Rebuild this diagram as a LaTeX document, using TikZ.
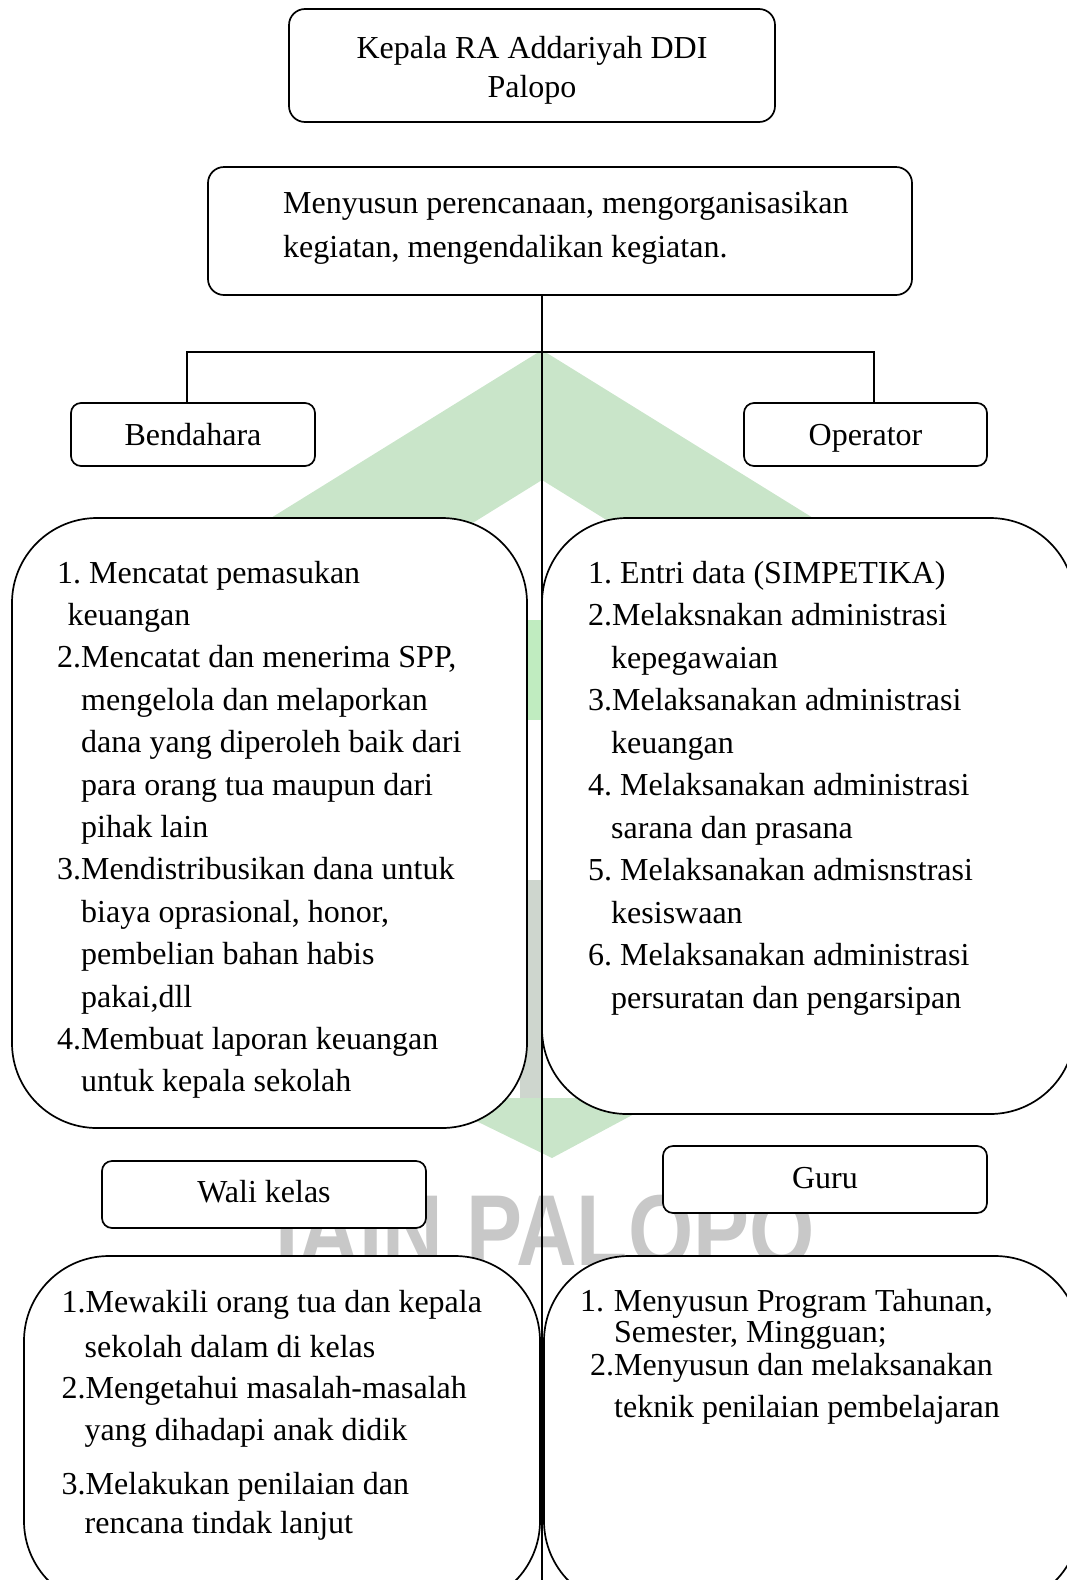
\documentclass[tikz,border=0pt]{standalone}
\usepackage{fontspec}
\setmainfont{Liberation Serif}
\newfontfamily\wmfont{Liberation Sans}
\definecolor{wmgreen}{RGB}{201,229,201}
\definecolor{wmstrip}{RGB}{192,236,192}
\definecolor{wmgrey}{RGB}{206,214,206}
\definecolor{wmtext}{RGB}{200,200,200}
\newcommand\BlockT[1]{\vtop{\baselineskip=0pt\lineskip=0pt\lineskiplimit=-\maxdimen #1}}
\newcommand\FLine[2]{\hbox{\kern#1pt #2}}
\newcommand\TLine[3]{\vskip#1pt\hbox{\kern#2pt #3}}
\newcommand\CFirst[1]{\hbox to 0pt{\hss#1\hss}}
\newcommand\CLine[2]{\vskip#1pt\hbox to 0pt{\hss#2\hss}}
\tikzset{
  sbox/.style={draw, line width=1.7pt, rounded corners=10pt, fill=white, inner sep=0pt,
    font=\fontsize{32}{38}\selectfont, text height=21pt, text depth=0pt},
  tbox/.style={draw, line width=1.7pt, rounded corners=16pt, fill=white, inner sep=0pt},
  bbox/.style={draw, line width=1.7pt, rounded corners=85pt, fill=white, inner sep=0pt},
  txt/.style={inner sep=0pt, font=\fontsize{32}{38}\selectfont},
  conn/.style={draw, line width=1.4pt},
}
\begin{document}
\frenchspacing
\begin{tikzpicture}[x=1pt,y=-1pt]
\useasboundingbox (0,0) rectangle (1067,1580);
\clip (0,0) rectangle (1067,1580);
% watermark
\fill[wmgreen] (542,350) -- (74,640) -- (284,640) -- (542,480) -- (800,640) -- (1010,640) -- cycle;
\fill[wmstrip] (520,620) rectangle (542,720);
\fill[wmgrey] (520,880) rectangle (542,1100);
\fill[wmgreen] (429,1098) -- (664,1098) -- (552,1158) -- cycle;
\node[font=\wmfont\bfseries\fontsize{84}{84}\selectfont, text=wmtext, anchor=base, inner sep=0pt] (wm) at (545,1265) {\scalebox{1}[1.2]{IAIN PALOPO}};
% boxes
\node[tbox, minimum width=486pt, minimum height=113pt] (kepala) at (532,65.5) {};
\node[tbox, minimum width=704pt, minimum height=128pt] (tugas) at (560,231) {};
\node[sbox, minimum width=244pt, minimum height=63pt] (bend) at (193,434.5) {Bendahara};
\node[sbox, minimum width=243pt, minimum height=63pt] (oper) at (865.5,434.5) {Operator};
\node[bbox, minimum width=515pt, minimum height=610pt] (bendtask) at (269.5,823) {};
\node[bbox, minimum width=533pt, minimum height=596pt] (opertask) at (808.5,816) {};
\node[sbox, text height=15pt, minimum width=324pt, minimum height=67pt] (wali) at (264,1194.5) {Wali kelas};
\node[sbox, text height=17pt, minimum width=324pt, minimum height=67pt] (guru) at (825,1179.5) {Guru};
\node[bbox, minimum width=516pt, minimum height=350pt] (walitask) at (282,1431) {};
\node[bbox, minimum width=536pt, minimum height=350pt] (gurutask) at (812,1431) {};
% connectors
\coordinate (hub) at (542,352);
\coordinate (lj) at (187,352);
\coordinate (rj) at (874,352);
\coordinate (foot) at (542,1580);
\draw[conn] (hub |- tugas.south) -- (foot);
\draw[conn] (lj |- bend.north) -- (lj) -- (rj) -- (rj |- oper.north);
% texts
\node[txt, anchor=base] (kepalatxt) at (532,58) {\BlockT{\CFirst{Kepala RA Addariyah DDI}\CLine{39.3}{Palopo}}};
\node[txt, anchor=base west] (tugastxt) at (283,213) {\BlockT{\FLine{0}{Menyusun perencanaan, mengorganisasikan}\TLine{44}{0}{kegiatan, mengendalikan kegiatan.}}};
\node[txt, anchor=base west] (bendtxt) at (57,583) {\BlockT{%
\FLine{0}{1. Mencatat pemasukan}
\TLine{42.4}{10.5}{keuangan}
\TLine{42.4}{0}{2.Mencatat dan menerima SPP,}
\TLine{42.4}{24}{mengelola dan melaporkan}
\TLine{42.4}{24}{dana yang diperoleh baik dari}
\TLine{42.4}{24}{para orang tua maupun dari}
\TLine{42.4}{24}{pihak lain}
\TLine{42.4}{0}{3.Mendistribusikan dana untuk}
\TLine{42.4}{24}{biaya oprasional, honor,}
\TLine{42.4}{24}{pembelian bahan habis}
\TLine{42.4}{24}{pakai,dll}
\TLine{42.4}{0}{4.Membuat laporan keuangan}
\TLine{42.4}{24}{untuk kepala sekolah}}};
\node[txt, anchor=base west] (opertxt) at (588,583) {\BlockT{%
\FLine{0}{1. Entri data (SIMPETIKA)}
\TLine{42.5}{0}{2.Melaksnakan administrasi}
\TLine{42.5}{23}{kepegawaian}
\TLine{42.5}{0}{3.Melaksanakan administrasi}
\TLine{42.5}{23}{keuangan}
\TLine{42.5}{0}{4. Melaksanakan administrasi}
\TLine{42.5}{23}{sarana dan prasana}
\TLine{42.5}{0}{5. Melaksanakan admisnstrasi}
\TLine{42.5}{23}{kesiswaan}
\TLine{42.5}{0}{6. Melaksanakan administrasi}
\TLine{42.5}{23}{persuratan dan pengarsipan}}};
\node[txt, anchor=base west] (walitxt) at (61.5,1312) {\BlockT{%
\FLine{0}{1.Mewakili orang tua dan kepala}
\TLine{45}{23}{sekolah dalam di kelas}
\TLine{41}{0}{2.Mengetahui masalah-masalah}
\TLine{42}{23}{yang dihadapi anak didik}
\TLine{54}{0}{3.Melakukan penilaian dan}
\TLine{39}{23}{rencana tindak lanjut}}};
\node[txt, anchor=base west] (gurutxt) at (580,1311) {\BlockT{%
\FLine{0}{1.\kern9.6pt Menyusun Program Tahunan,}
\TLine{31}{34}{Semester, Mingguan;}
\TLine{33}{10}{2.Menyusun dan melaksanakan}
\TLine{42}{34}{teknik penilaian pembelajaran}}};
\end{tikzpicture}
\end{document}
